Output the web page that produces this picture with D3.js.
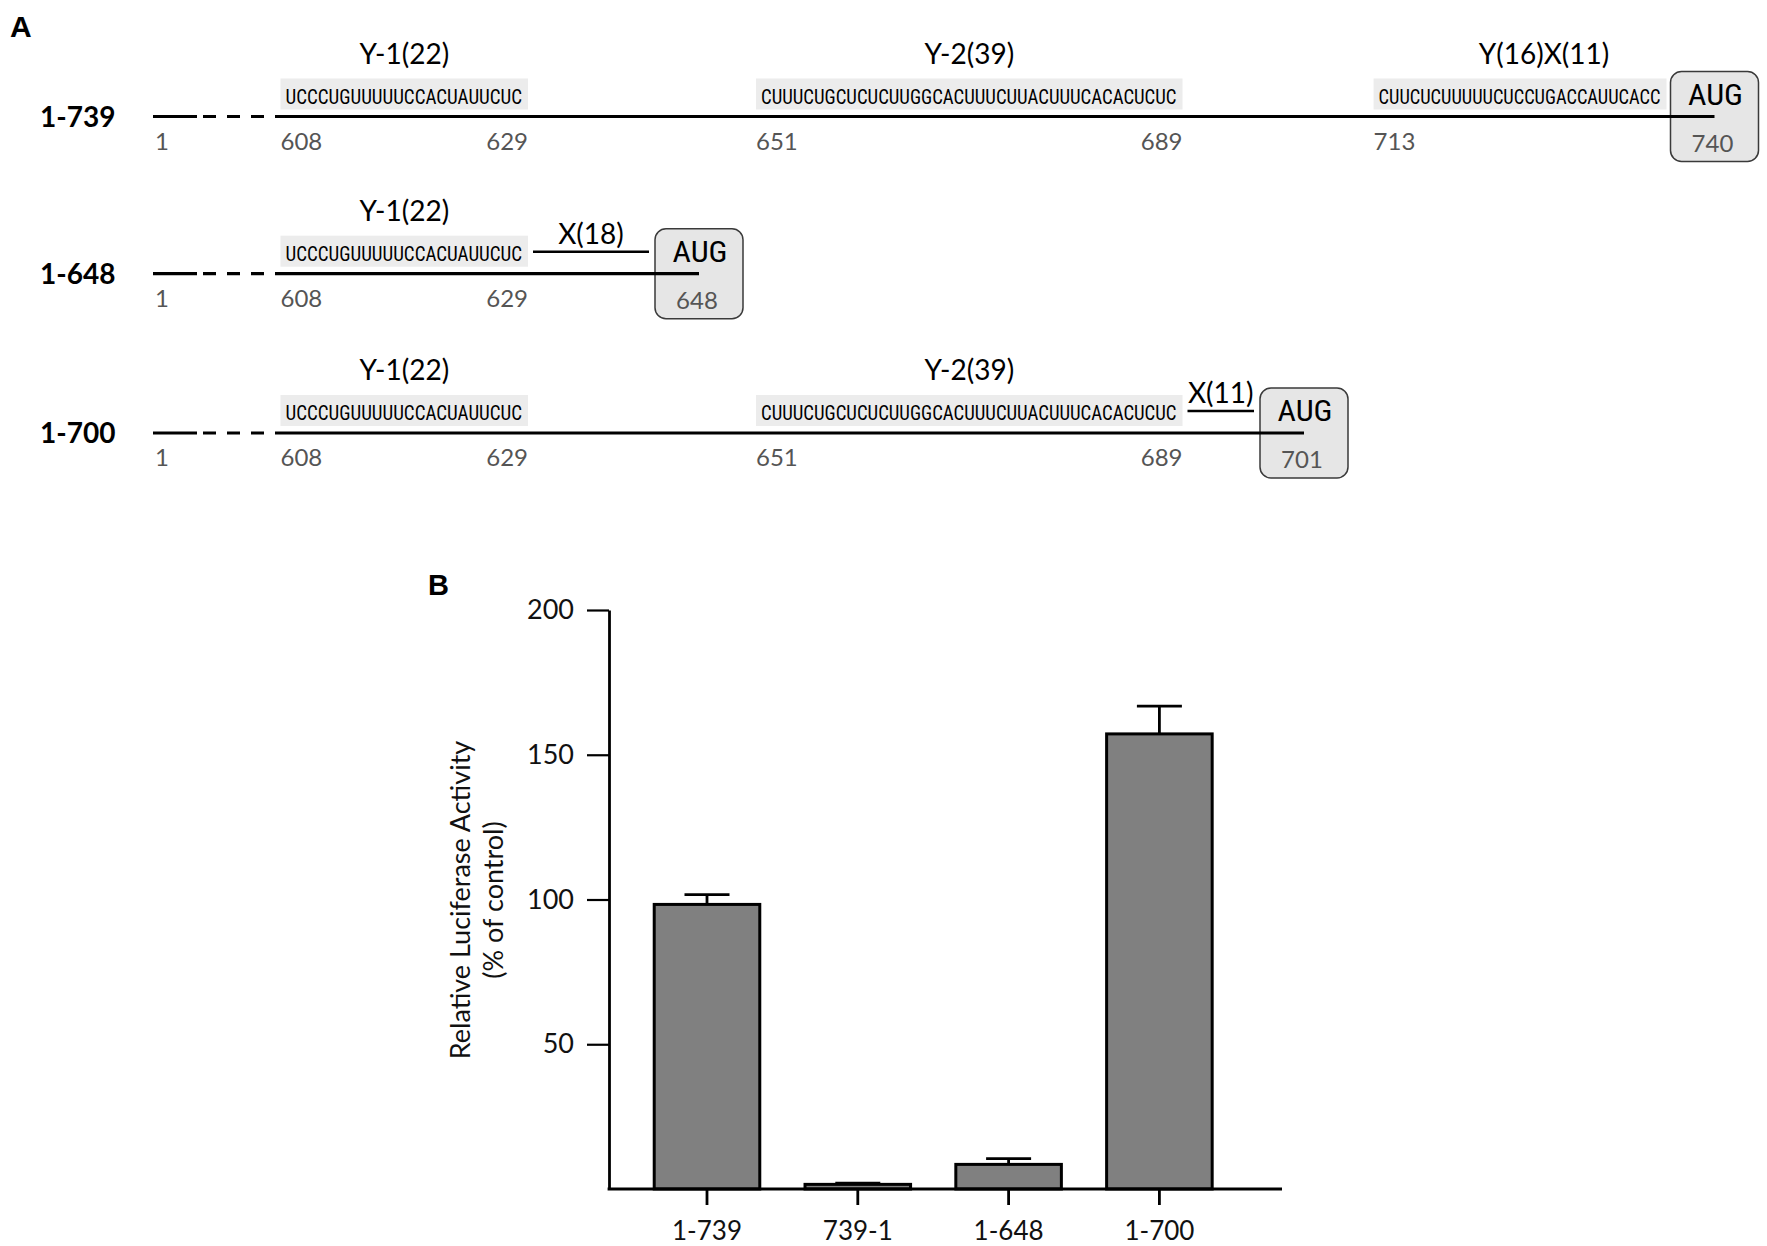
<!DOCTYPE html>
<html>
<head>
<meta charset="utf-8">
<script src="https://cdn.jsdelivr.net/npm/d3@7/dist/d3.min.js"></script>
<style>
  html, body { margin: 0; padding: 0; background: #fff; }
  svg { display: block; }
</style>
</head>
<body>
<svg id="chart" width="1767" height="1246"></svg>
<script>
// ---------------- DATA ----------------
// Panel A: constructs
const constructNames = ["1-739", "1-648", "1-700"];
const seqY1 = { name: "Y-1(22)", seq: "UCCCUGUUUUUCCACUAUUCUC", start: 608, end: 629 };
const seqY2 = { name: "Y-2(39)", seq: "CUUUCUGCUCUCUUGGCACUUUCUUACUUUCACACUCUC", start: 651, end: 689 };
const seqY16X11 = { name: "Y(16)X(11)", seq: "CUUCUCUUUUUCUCCUGACCAUUCACC", start: 713, end: 739 };
const row1Seqs = [seqY1, seqY2, seqY16X11];
const row2Seqs = [seqY1];
const row3Seqs = [seqY1, seqY2];
const row2Spacer = { name: "X(18)", start: 630, end: 647 };
const row3Spacer = { name: "X(11)", start: 690, end: 700 };
const augPositions = [740, 648, 701];
const startPosition = 1;

// Panel B: luciferase activity
const categories = ["1-739", "739-1", "1-648", "1-700"];
const meanValues = [98.3, 1.6, 8.5, 157.2];
const errorTops = [101.7, 2.0, 10.5, 166.8];
const yTickValues = [50, 100, 150, 200];

// ---------------- LAYOUT ----------------
const svg = d3.select("#chart");
const SANS = "Lato, 'Open Sans', 'DejaVu Sans', sans-serif";
const NARROW = "'Liberation Sans Narrow', 'Roboto Condensed', 'Liberation Sans', sans-serif";
const GREY = "#555555";

svg.append("text").attr("x", 10).attr("y", 37)
  .attr("font-family", "'Liberation Sans', Arial, sans-serif").attr("font-weight", "bold")
  .attr("font-size", 30).text("A");

// per-row nucleotide->pixel scales (schematic, piecewise)
const rowScales = [
  d3.scaleLinear().domain([1, 608, 630, 651, 690, 713, 740]).range([153, 280.5, 528, 756, 1182.5, 1373.6, 1666.5]),
  d3.scaleLinear().domain([1, 608, 630, 648]).range([153, 280.5, 528, 651]),
  d3.scaleLinear().domain([1, 608, 630, 651, 690, 701]).range([153, 280.5, 528, 756, 1182.5, 1256])
];
const rowY = [116.5, 273.7, 433];
const rowSeqs = [row1Seqs, row2Seqs, row3Seqs];
const rowSpacers = [null, row2Spacer, row3Spacer];
const nameDx = { "Y(16)X(11)": 24 };

constructNames.forEach((cname, i) => {
  const x = rowScales[i];
  const y0 = rowY[i];
  const g = svg.append("g");

  // row label
  g.append("text").attr("x", 40).attr("y", y0 + 10)
    .attr("font-family", SANS).attr("font-weight", 700).attr("font-size", 28)
    .text(cname);

  // AUG box (behind line)
  const augPos = augPositions[i];
  const boxL = x(augPos) + 4, boxW = 88;
  g.append("rect").attr("x", boxL).attr("y", y0 - 45).attr("width", boxW).attr("height", 90)
    .attr("rx", 11).attr("ry", 11)
    .attr("fill", "#e6e6e6").attr("stroke", "#3a3a3a").attr("stroke-width", 1.5);
  const lineEnd = boxL + boxW / 2;

  // main line with break
  const x1 = x(startPosition);
  g.append("line").attr("x1", x1).attr("x2", x1 + 44).attr("y1", y0).attr("y2", y0)
    .attr("stroke", "#000").attr("stroke-width", 3.2);
  g.append("line").attr("x1", x1 + 50).attr("x2", x1 + 112).attr("y1", y0).attr("y2", y0)
    .attr("stroke", "#000").attr("stroke-width", 3.2).attr("stroke-dasharray", "13,11");
  g.append("line").attr("x1", x1 + 122).attr("x2", lineEnd).attr("y1", y0).attr("y2", y0)
    .attr("stroke", "#000").attr("stroke-width", 3.2);

  // position "1"
  g.append("text").attr("x", x1 + 2).attr("y", y0 + 33)
    .attr("font-family", SANS).attr("font-size", 24).attr("fill", GREY).text(String(startPosition));

  // sequences
  rowSeqs[i].forEach(s => {
    const bx0 = x(s.start), bx1 = x(s.end + 1);
    g.append("rect").attr("x", bx0).attr("y", y0 - 38).attr("width", bx1 - bx0).attr("height", 31)
      .attr("fill", "#ececec");
    g.append("text").attr("x", bx0 + 5).attr("y", y0 - 13)
      .attr("font-family", NARROW).attr("font-size", 20.5)
      .attr("textLength", bx1 - bx0 - 11).attr("lengthAdjust", "spacingAndGlyphs")
      .text(s.seq);
    g.append("text").attr("x", (bx0 + bx1) / 2 + (nameDx[s.name] || 0)).attr("y", y0 - 53)
      .attr("text-anchor", "middle").attr("font-family", SANS).attr("font-size", 28)
      .text(s.name);
    g.append("text").attr("x", bx0).attr("y", y0 + 33)
      .attr("font-family", SANS).attr("font-size", 24).attr("fill", GREY).text(String(s.start));
    if (s.end !== 739) {
      g.append("text").attr("x", bx1).attr("y", y0 + 33).attr("text-anchor", "end")
        .attr("font-family", SANS).attr("font-size", 24).attr("fill", GREY).text(String(s.end));
    }
  });

  // spacer
  const sp = rowSpacers[i];
  if (sp) {
    const sx0 = x(sp.start) + 5, sx1 = x(sp.end + 1) - 2;
    g.append("line").attr("x1", sx0).attr("x2", sx1).attr("y1", y0 - 22).attr("y2", y0 - 22)
      .attr("stroke", "#000").attr("stroke-width", 2.5);
    g.append("text").attr("x", (sx0 + sx1) / 2).attr("y", y0 - 30).attr("text-anchor", "middle")
      .attr("font-family", SANS).attr("font-size", 28).text(sp.name);
  }

  // AUG + number
  g.append("text").attr("x", boxL + boxW / 2 + 1).attr("y", y0 - 12).attr("text-anchor", "middle")
    .attr("font-family", NARROW).attr("font-size", 30)
    .attr("textLength", 55).attr("lengthAdjust", "spacingAndGlyphs").text("AUG");
  g.append("text").attr("x", boxL + boxW / 2 - 2).attr("y", y0 + 35).attr("text-anchor", "middle")
    .attr("font-family", SANS).attr("font-size", 24).attr("fill", GREY).text(String(augPos));
});

// ---------------- PANEL B ----------------
svg.append("text").attr("x", 428).attr("y", 595)
  .attr("font-family", "'Liberation Sans', Arial, sans-serif").attr("font-weight", "bold")
  .attr("font-size", 29).text("B");

const yScale = d3.scaleLinear().domain([0, 200]).range([1189, 610]);
const xScale = d3.scaleBand().domain(categories).range([631.6, 1234.8])
  .paddingInner(0.3).paddingOuter(0.15);
const axisX0 = 609, axisX1 = 1282;

// bars
const bars = svg.append("g");
categories.forEach((c, i) => {
  const bx = xScale(c), bw = xScale.bandwidth();
  const cx = bx + bw / 2;
  bars.append("line").attr("x1", cx).attr("x2", cx)
    .attr("y1", yScale(meanValues[i])).attr("y2", yScale(errorTops[i]))
    .attr("stroke", "#000").attr("stroke-width", 2.8);
  bars.append("line").attr("x1", cx - 22.5).attr("x2", cx + 22.5)
    .attr("y1", yScale(errorTops[i])).attr("y2", yScale(errorTops[i]))
    .attr("stroke", "#000").attr("stroke-width", 2.8);
  bars.append("rect").attr("x", bx).attr("width", bw)
    .attr("y", yScale(meanValues[i])).attr("height", yScale(0) - yScale(meanValues[i]))
    .attr("fill", "#808080").attr("stroke", "#000").attr("stroke-width", 3);
});

// y axis
const yAxis = svg.append("g").attr("transform", `translate(${axisX0},0)`)
  .call(d3.axisLeft(yScale).tickValues(yTickValues).tickSize(22).tickSizeOuter(0).tickPadding(13));
yAxis.select(".domain").attr("stroke-width", 2.8);
yAxis.selectAll(".tick line").attr("stroke-width", 2.2);
yAxis.selectAll(".tick text").attr("font-family", SANS).attr("font-size", 27).attr("fill", "#111");

// x axis
const xAxis = svg.append("g").attr("transform", `translate(0,${yScale(0)})`)
  .call(d3.axisBottom(xScale).tickSize(16).tickSizeOuter(0).tickPadding(16.5));
xAxis.select(".domain").remove();
xAxis.selectAll(".tick line").attr("stroke-width", 2.8);
xAxis.selectAll(".tick text").attr("font-family", SANS).attr("font-size", 26).attr("fill", "#111");
svg.append("line").attr("x1", axisX0 - 1.4).attr("x2", axisX1)
  .attr("y1", yScale(0)).attr("y2", yScale(0))
  .attr("stroke", "#000").attr("stroke-width", 2.8);

// y label
const yl = svg.append("g").attr("transform", "translate(470,900) rotate(-90)");
yl.append("text").attr("text-anchor", "middle").attr("font-family", SANS).attr("font-size", 27)
  .attr("fill", "#111").text("Relative Luciferase Activity");
yl.append("text").attr("text-anchor", "middle").attr("y", 33).attr("font-family", SANS).attr("font-size", 27)
  .attr("fill", "#111").text("(% of control)");
</script>
</body>
</html>
